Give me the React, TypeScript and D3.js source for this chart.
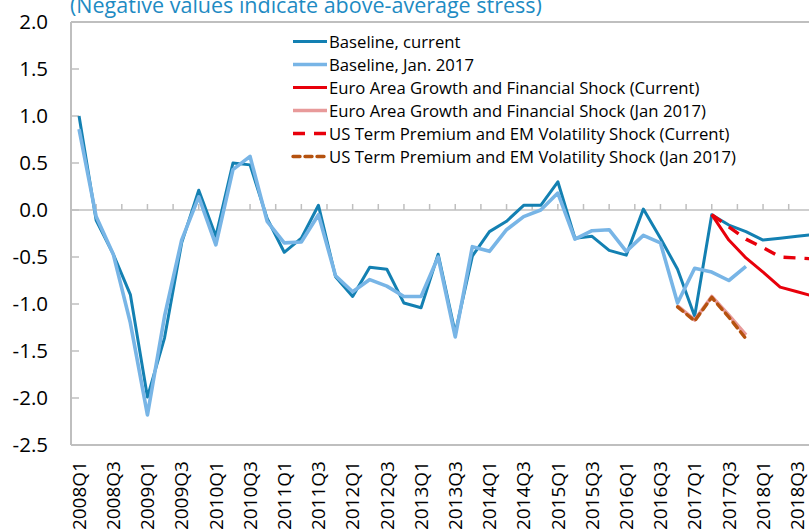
import React from "react";
import * as d3 from "d3";

const quarters = [
  "2008Q1","2008Q2","2008Q3","2008Q4","2009Q1","2009Q2","2009Q3","2009Q4",
  "2010Q1","2010Q2","2010Q3","2010Q4","2011Q1","2011Q2","2011Q3","2011Q4",
  "2012Q1","2012Q2","2012Q3","2012Q4","2013Q1","2013Q2","2013Q3","2013Q4",
  "2014Q1","2014Q2","2014Q3","2014Q4","2015Q1","2015Q2","2015Q3","2015Q4",
  "2016Q1","2016Q2","2016Q3","2016Q4","2017Q1","2017Q2","2017Q3","2017Q4",
  "2018Q1","2018Q2","2018Q3","2018Q4",
];
const xTickLabels = quarters.filter((q) => q.endsWith("Q1") || q.endsWith("Q3"));
const yTicks = [2.0, 1.5, 1.0, 0.5, 0.0, -0.5, -1.0, -1.5, -2.0, -2.5];

// Baseline, current (starts 2008Q1)
const baselineCurrent = [
  1.0, -0.11, -0.47, -0.9, -1.99, -1.36, -0.35, 0.21, -0.28, 0.5, 0.48, -0.09,
  -0.45, -0.3, 0.05, -0.71, -0.92, -0.61, -0.63, -0.99, -1.04, -0.47, -1.31, -0.49,
  -0.23, -0.12, 0.05, 0.05, 0.3, -0.3, -0.28, -0.43, -0.48, 0.01, -0.3, -0.63,
  -1.13, -0.05, -0.16, -0.23, -0.32, -0.3, -0.28, -0.26,
];
const baselineCurrentStart = "2008Q1";
// Baseline, Jan. 2017 (starts 2008Q1)
const baselineJan2017 = [
  0.86, -0.07, -0.47, -1.2, -2.18, -1.13, -0.32, 0.14, -0.37, 0.43, 0.57, -0.12,
  -0.35, -0.34, -0.05, -0.7, -0.87, -0.74, -0.81, -0.92, -0.92, -0.5, -1.35, -0.39,
  -0.44, -0.21, -0.07, 0.0, 0.18, -0.31, -0.22, -0.21, -0.44, -0.27, -0.35, -0.99,
  -0.62, -0.66, -0.75, -0.6,
];
const baselineJan2017Start = "2008Q1";
const euroCurrent = [-0.05, -0.32, -0.51, -0.66, -0.82, -0.87, -0.92];
const euroCurrentStart = "2017Q2";
const euroJan2017 = [-1.02, -1.17, -0.92, -1.12, -1.33];
const euroJan2017Start = "2016Q4";
const usCurrent = [-0.05, -0.18, -0.31, -0.4, -0.5, -0.51, -0.52];
const usCurrentStart = "2017Q2";
const usJan2017 = [-1.03, -1.18, -0.93, -1.14, -1.37];
const usJan2017Start = "2016Q4";

const W = 809;
const H = 529;
const FONT = "'Open Sans', sans-serif";

type Series = {
  name: string;
  values: number[];
  start: string;
  color: string;
  width: number;
  dash?: string;
  cap?: string;
};

const series: Series[] = [
  { name: "Baseline, current", values: baselineCurrent, start: baselineCurrentStart, color: "#1380b2", width: 3 },
  { name: "Baseline, Jan. 2017", values: baselineJan2017, start: baselineJan2017Start, color: "#78b5e6", width: 3.6 },
  { name: "Euro Area Growth and Financial Shock (Current)", values: euroCurrent, start: euroCurrentStart, color: "#e8000b", width: 3 },
  { name: "Euro Area Growth and Financial Shock (Jan 2017)", values: euroJan2017, start: euroJan2017Start, color: "#e89a9a", width: 3.6 },
  { name: "US Term Premium and EM Volatility Shock (Current)", values: usCurrent, start: usCurrentStart, color: "#e8000b", width: 3.4, dash: "12,9" },
  { name: "US Term Premium and EM Volatility Shock (Jan 2017)", values: usJan2017, start: usJan2017Start, color: "#b5520f", width: 3.4, dash: "7,5", cap: "round" },
];

export default function App() {
  const plotLeft = 70.5;
  const bandW = 17.1;
  const x = d3
    .scaleBand<string>()
    .domain(quarters)
    .range([plotLeft, plotLeft + bandW * quarters.length])
    .padding(0);
  const cx = (q: string) => (x(q) as number) + x.bandwidth() / 2;
  const y = d3.scaleLinear().domain([-2.5, 2]).range([445, 22]);

  const line = d3
    .line<[string, number]>()
    .x((d) => cx(d[0]))
    .y((d) => y(d[1]));

  const pts = (s: Series): [string, number][] => {
    const i0 = quarters.indexOf(s.start);
    return s.values.map((v, i) => [quarters[i0 + i], v]);
  };

  // minor ticks along zero line, every 1.5 bands
  const zeroTicks: number[] = [];
  for (let k = 1; plotLeft + k * 1.5 * x.bandwidth() < W; k++) {
    zeroTicks.push(plotLeft + k * 1.5 * x.bandwidth());
  }

  const axisColor = "#bfbfbf";
  const legendX1 = 293;
  const legendX2 = 327;
  const legendY0 = 41.5;
  const legendStep = 23;

  return (
    <svg
      width={W}
      height={H}
      style={{ position: "absolute", left: 0, top: 0, background: "#fff" }}
    >
      <rect width={W} height={H} fill="#fff" />
      <text x={70} y={13} fontFamily={FONT} fontSize={21.5} fill="#1e8bc3">
        (Negative values indicate above-average stress)
      </text>

      {/* frame */}
      <line x1={71} x2={W} y1={y(2)} y2={y(2)} stroke={axisColor} strokeWidth={2} />
      <line x1={71} x2={W} y1={y(-2.5)} y2={y(-2.5)} stroke={axisColor} strokeWidth={2} />
      <line x1={71} x2={71} y1={y(2)} y2={y(-2.5)} stroke={axisColor} strokeWidth={2} />

      {/* y ticks & labels */}
      {yTicks.map((t) => (
        <g key={t}>
          <line x1={71} x2={79} y1={y(t)} y2={y(t)} stroke={axisColor} strokeWidth={1.5} />
          <text
            x={48}
            y={y(t)}
            dy="0.36em"
            textAnchor="end"
            fontFamily={FONT}
            fontSize={20.5}
            fill="#000"
          >
            {t.toFixed(1)}
          </text>
        </g>
      ))}

      {/* zero line */}
      <line x1={71} x2={W} y1={y(0)} y2={y(0)} stroke={axisColor} strokeWidth={1.5} />
      {zeroTicks.map((tx, i) => (
        <line key={i} x1={tx} x2={tx} y1={y(0)} y2={y(0) - 6} stroke={axisColor} strokeWidth={1.5} />
      ))}

      {/* x labels */}
      {xTickLabels.map((q) => (
        <text
          key={q}
          transform={`translate(${cx(q)},461) rotate(-90)`}
          textAnchor="end"
          dy="0.36em"
          fontFamily={FONT}
          fontSize={19}
          fill="#000"
        >
          {q}
        </text>
      ))}

      {/* series */}
      {series.map((s) => (
        <path
          key={s.name}
          d={line(pts(s)) || ""}
          fill="none"
          stroke={s.color}
          strokeWidth={s.width}
          strokeDasharray={s.dash}
          strokeLinejoin="round"
          strokeLinecap={(s.cap as any) || "butt"}
        />
      ))}

      {/* legend */}
      {series.map((s, i) => {
        const ly = legendY0 + i * legendStep;
        return (
          <g key={s.name}>
            <line
              x1={legendX1}
              x2={legendX2}
              y1={ly}
              y2={ly}
              stroke={s.color}
              strokeWidth={s.width}
              strokeDasharray={s.dash}
              strokeLinecap={(s.cap as any) || "butt"}
            />
            <text x={329} y={ly} dy="0.36em" fontFamily={FONT} fontSize={16.7} fill="#000">
              {s.name}
            </text>
          </g>
        );
      })}
    </svg>
  );
}
